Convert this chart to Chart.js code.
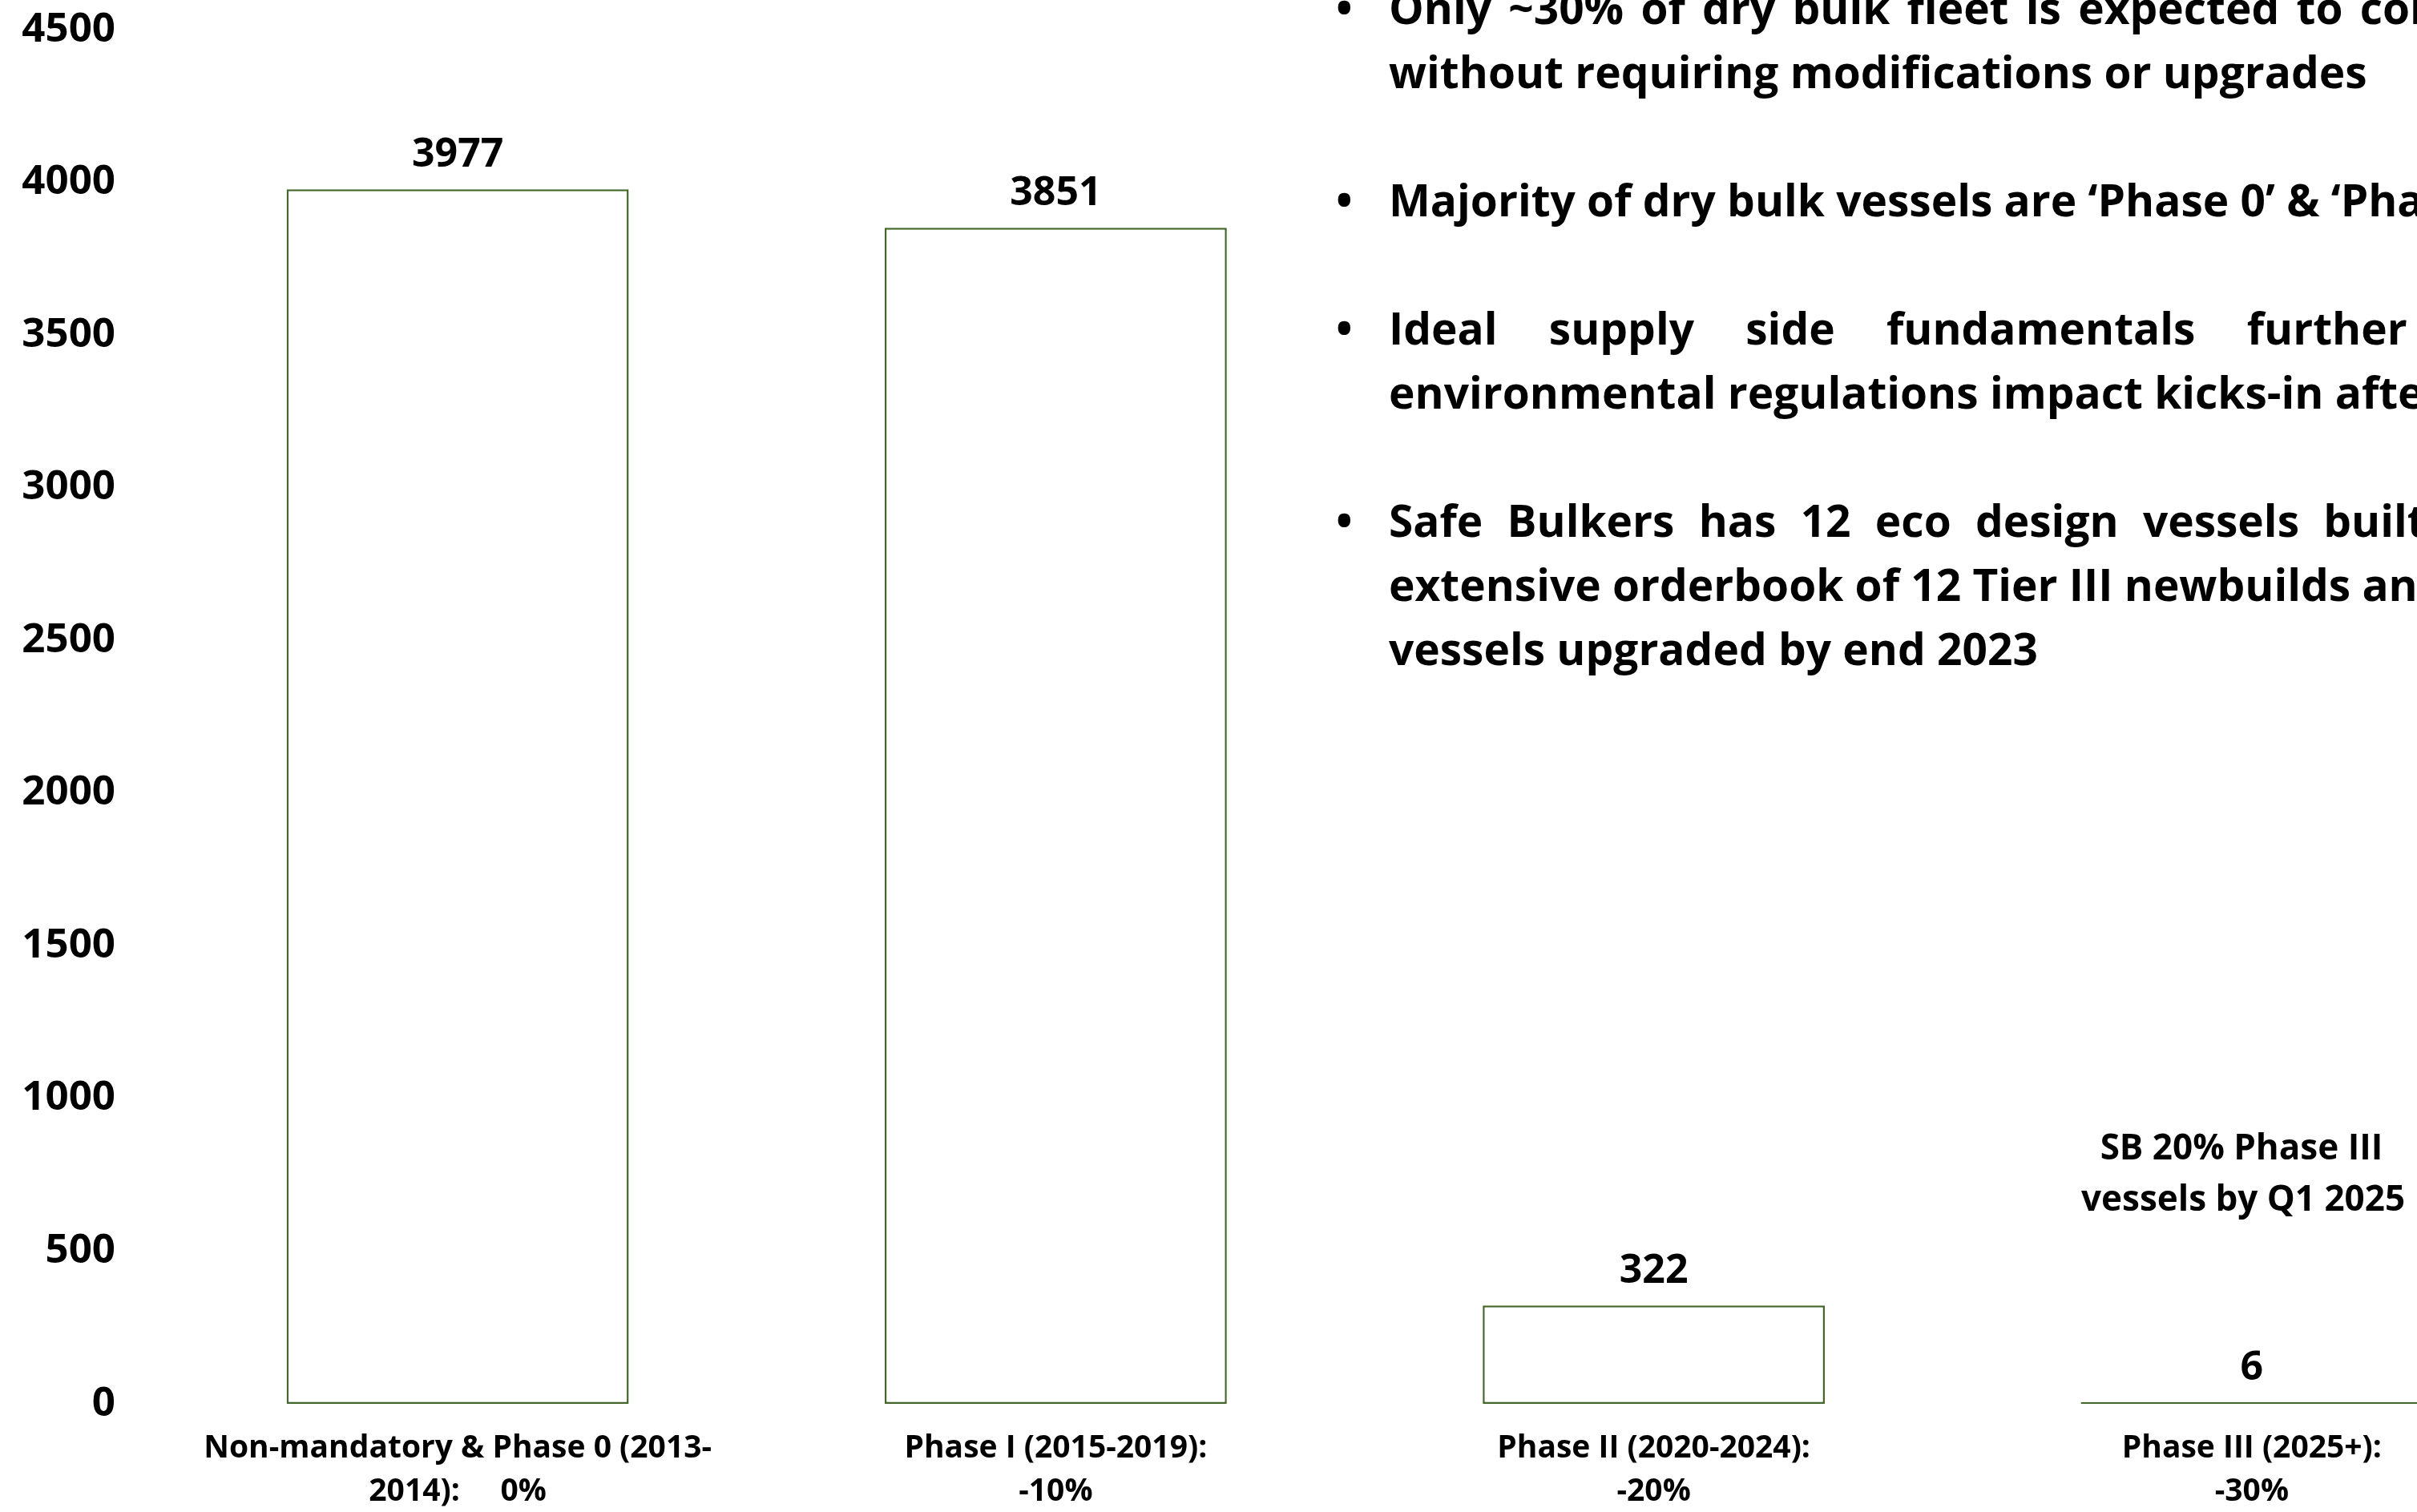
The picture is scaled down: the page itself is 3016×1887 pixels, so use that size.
<!DOCTYPE html>
<html>
<head>
<meta charset="utf-8">
<script src="https://cdn.jsdelivr.net/npm/chart.js@4.4.0/dist/chart.umd.min.js"></script>
<style>
  html, body { margin: 0; padding: 0; background: #fff; overflow: hidden; }
  #page { position: relative; width: 3016px; height: 1887px; overflow: hidden; background: #fff; }
  #chart { position: absolute; left: 0; top: 0; }
  .txt { position: absolute; font-family: "Open Sans", sans-serif; font-weight: 700; color: #000; }
  #bullets { left: 1733px; top: -31px; font-size: 55px; line-height: 80px; }
  #bullets .line { height: 80px; position: relative; white-space: pre; }
  #bullets .dot { position: absolute; left: -66px; }
  #note { left: 2597px; width: 400px; top: 1398px; font-size: 44px; line-height: 64px; text-align: center; white-space: pre; }
</style>
</head>
<body>
<div id="page">
  <canvas id="chart" width="3183" height="1887"></canvas>
  <div id="bullets" class="txt">
    <div class="line" style="word-spacing:7px"><span class="dot">•</span>Only ~30% of dry bulk fleet is expected to comply</div>
    <div class="line">without requiring modifications or upgrades</div>
    <div class="line"></div>
    <div class="line"><span class="dot">•</span>Majority of dry bulk vessels are ‘Phase 0’ &amp; ‘Phase I’</div>
    <div class="line"></div>
    <div class="line" style="word-spacing:50px"><span class="dot">•</span>Ideal supply side fundamentals further</div>
    <div class="line">environmental regulations impact kicks-in after</div>
    <div class="line"></div>
    <div class="line" style="word-spacing:16px"><span class="dot">•</span>Safe Bulkers has 12 eco design vessels built</div>
    <div class="line">extensive orderbook of 12 Tier III newbuilds and</div>
    <div class="line">vessels upgraded by end 2023</div>
  </div>
  <div id="note" class="txt">SB 20% Phase III
vessels by Q1 2025</div>
</div>
<script>
// ---------- data ----------
const CATEGORIES = [
  ['Non-mandatory & Phase 0 (2013-', '2014):     0%'],
  ['Phase I (2015-2019):', '-10%'],
  ['Phase II (2020-2024):', '-20%'],
  ['Phase III (2025+):', '-30%'],
];
const VESSELS = [3977, 3851, 322, 6];
const Y_MIN  = 0;
const Y_MAX  = 4500;
const Y_STEP = 500;

// ---------- style ----------
const GREEN = '#44662A';
const FONT  = '"Open Sans", sans-serif';

Chart.defaults.font.family = FONT;
Chart.defaults.color = '#000';

// value labels above each bar
const valueLabels = {
  id: 'valueLabels',
  afterDatasetsDraw(chart) {
    const { ctx } = chart;
    const meta = chart.getDatasetMeta(0);
    ctx.save();
    ctx.font = 'bold 50px ' + FONT;
    ctx.fillStyle = '#000';
    ctx.textAlign = 'center';
    ctx.textBaseline = 'alphabetic';
    meta.data.forEach((bar, i) => {
      ctx.fillText(String(VESSELS[i]), bar.x, bar.y - 28);
    });
    ctx.restore();
  }
};

new Chart(document.getElementById('chart').getContext('2d'), {
  type: 'bar',
  data: {
    labels: CATEGORIES,
    datasets: [{
      data: VESSELS,
      backgroundColor: '#fff',
      borderColor: GREEN,
      borderWidth: 2.5,
      borderSkipped: false,
      categoryPercentage: 1,
      barPercentage: 0.572,
    }]
  },
  options: {
    responsive: false,
    animation: false,
    devicePixelRatio: 1,
    layout: { padding: { top: 37, right: 0, bottom: 0, left: 0 } },
    plugins: {
      legend: { display: false },
      tooltip: { enabled: false },
    },
    scales: {
      x: {
        grid: { display: false, drawTicks: false },
        border: { display: false },
        ticks: {
          autoSkip: false,
          maxRotation: 0,
          padding: 29,
          color: '#000',
          font: { size: 39, weight: 'bold', lineHeight: 1.385 },
        },
        afterFit: (s) => { s.height = 135; },
      },
      y: {
        min: Y_MIN,
        max: Y_MAX,
        grid: { display: false, drawTicks: false },
        border: { display: false },
        ticks: {
          stepSize: Y_STEP,
          padding: 54,
          color: '#000',
          font: { size: 51, weight: 'bold' },
          callback: (v) => String(v),
        },
        // fixed axis width; keep the tick padding out of the top/bottom margins
        afterFit: (s) => {
          s.width = 198;
          s.paddingTop = 31;
          s.paddingBottom = 31;
        },
      }
    }
  },
  plugins: [valueLabels]
});
</script>
</body>
</html>
